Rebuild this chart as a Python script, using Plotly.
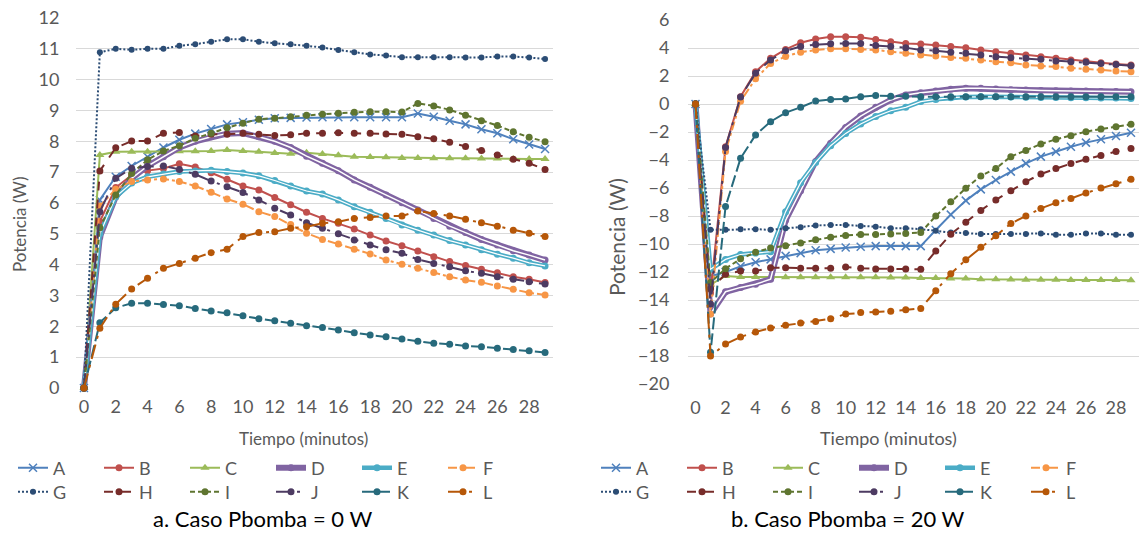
import plotly.graph_objects as go

# ---------------- data ----------------
minutes = list(range(30))
series_names = ["A", "B", "C", "D", "E", "F", "G", "H", "I", "J", "K", "L"]
x_ticks = list(range(0, 29, 2))

# Caso Pbomba = 0 W
a_left = [0, 6.1, 6.85, 7.2, 7.5, 7.8, 8.05, 8.25, 8.4, 8.55, 8.62, 8.7, 8.75, 8.76, 8.77, 8.78, 8.78, 8.78, 8.78, 8.78, 8.78, 8.9, 8.8, 8.67, 8.55, 8.39, 8.26, 8.07, 7.9, 7.75]
b_left = [0, 5.4, 6.5, 6.9, 7.05, 7.12, 7.27, 7.17, 6.98, 6.77, 6.55, 6.42, 6.18, 5.94, 5.70, 5.50, 5.34, 5.16, 4.96, 4.77, 4.61, 4.44, 4.26, 4.10, 3.97, 3.85, 3.74, 3.61, 3.53, 3.42]
c_left = [0, 7.56, 7.66, 7.66, 7.66, 7.67, 7.68, 7.68, 7.69, 7.72, 7.69, 7.66, 7.62, 7.6, 7.63, 7.59, 7.55, 7.5, 7.49, 7.48, 7.46, 7.46, 7.45, 7.45, 7.45, 7.44, 7.44, 7.43, 7.43, 7.43]
d_left = [0, 4.9, 6.2, 6.8, 7.2, 7.5, 7.8, 8.0, 8.15, 8.25, 8.27, 8.15, 8.0, 7.8, 7.52, 7.29, 7.05, 6.75, 6.51, 6.26, 6.01, 5.77, 5.50, 5.25, 5.04, 4.82, 4.64, 4.45, 4.31, 4.15]
e_left = [0, 5.0, 6.2, 6.65, 6.85, 6.94, 7.02, 7.04, 7.06, 7.02, 6.97, 6.88, 6.73, 6.55, 6.39, 6.29, 6.10, 5.88, 5.70, 5.50, 5.29, 5.12, 4.96, 4.78, 4.64, 4.48, 4.34, 4.21, 4.06, 3.96]
f_left = [0, 5.9, 6.45, 6.7, 6.75, 6.78, 6.7, 6.55, 6.35, 6.13, 5.96, 5.72, 5.56, 5.3, 5.02, 4.82, 4.67, 4.50, 4.35, 4.15, 4.01, 3.88, 3.75, 3.61, 3.50, 3.43, 3.31, 3.20, 3.09, 3.02]
g_left = [0, 10.89, 11.0, 10.97, 11.0, 11.0, 11.1, 11.15, 11.23, 11.31, 11.31, 11.23, 11.18, 11.15, 11.1, 11.04, 10.96, 10.89, 10.82, 10.78, 10.73, 10.73, 10.73, 10.73, 10.72, 10.72, 10.75, 10.75, 10.72, 10.67]
h_left = [0, 7.04, 7.79, 8.01, 8.01, 8.26, 8.29, 8.17, 8.23, 8.23, 8.26, 8.23, 8.19, 8.21, 8.26, 8.26, 8.28, 8.26, 8.26, 8.24, 8.23, 8.15, 8.08, 7.97, 7.83, 7.70, 7.56, 7.42, 7.29, 7.09]
i_left = [0, 5.2, 6.26, 6.96, 7.40, 7.69, 7.86, 8.10, 8.26, 8.44, 8.59, 8.72, 8.75, 8.80, 8.85, 8.88, 8.91, 8.94, 8.96, 8.96, 8.95, 9.23, 9.15, 9.02, 8.85, 8.67, 8.51, 8.31, 8.13, 7.99]
j_left = [0, 5.72, 6.8, 7.13, 7.18, 7.2, 7.09, 6.93, 6.71, 6.53, 6.34, 6.1, 5.83, 5.61, 5.36, 5.18, 5.00, 4.80, 4.64, 4.48, 4.37, 4.17, 4.04, 3.93, 3.80, 3.72, 3.61, 3.53, 3.45, 3.37]
k_left = [0, 2.12, 2.6, 2.75, 2.75, 2.71, 2.67, 2.58, 2.50, 2.44, 2.34, 2.25, 2.18, 2.1, 2.02, 1.96, 1.88, 1.79, 1.72, 1.66, 1.59, 1.52, 1.45, 1.42, 1.36, 1.34, 1.29, 1.25, 1.21, 1.15]
l_left = [0, 1.94, 2.72, 3.21, 3.56, 3.88, 4.04, 4.21, 4.39, 4.50, 4.91, 5.04, 5.07, 5.18, 5.23, 5.34, 5.39, 5.50, 5.53, 5.58, 5.58, 5.74, 5.66, 5.58, 5.47, 5.36, 5.25, 5.12, 5.02, 4.91]

# Caso Pbomba = 20 W
a_right = [0, -12.3, -12.0, -11.6, -11.3, -11.1, -10.85, -10.65, -10.45, -10.35, -10.25, -10.2, -10.15, -10.15, -10.15, -10.15, -9.0, -7.9, -6.9, -6.1, -5.43, -4.83, -4.24, -3.76, -3.4, -3.05, -2.76, -2.52, -2.29, -2.05]
b_right = [0, -13.5, -3.05, 0.52, 2.31, 3.26, 3.9, 4.38, 4.64, 4.81, 4.81, 4.76, 4.6, 4.45, 4.33, 4.29, 4.21, 4.1, 4.02, 3.86, 3.74, 3.62, 3.5, 3.38, 3.26, 3.14, 3.07, 2.95, 2.86, 2.79]
c_right = [0, -12.9, -12.28, -12.35, -12.35, -12.35, -12.38, -12.38, -12.38, -12.38, -12.38, -12.38, -12.38, -12.4, -12.4, -12.42, -12.42, -12.47, -12.47, -12.52, -12.52, -12.54, -12.55, -12.55, -12.56, -12.57, -12.57, -12.58, -12.58, -12.59]
d_right = [0, -15.0, -13.41, -13.1, -12.87, -12.52, -8.3, -6.2, -4.1, -2.81, -1.67, -0.86, -0.24, 0.29, 0.64, 0.81, 0.93, 1.05, 1.12, 1.12, 1.07, 1.02, 1.0, 0.97, 0.95, 0.93, 0.92, 0.9, 0.89, 0.88]
e_right = [0, -11.8, -11.1, -10.75, -10.65, -10.55, -7.69, -5.62, -4.17, -2.98, -2.1, -1.43, -0.9, -0.48, -0.24, 0.17, 0.33, 0.45, 0.5, 0.52, 0.52, 0.5, 0.48, 0.47, 0.46, 0.45, 0.44, 0.43, 0.42, 0.4]
f_right = [0, -15.0, -3.4, 0.2, 1.8, 2.9, 3.4, 3.7, 3.85, 3.95, 3.95, 3.9, 3.86, 3.74, 3.62, 3.5, 3.43, 3.33, 3.26, 3.14, 3.02, 2.95, 2.79, 2.71, 2.67, 2.55, 2.48, 2.43, 2.36, 2.31]
g_right = [0, -8.99, -8.99, -8.94, -8.94, -8.99, -8.87, -8.8, -8.68, -8.64, -8.64, -8.71, -8.76, -8.87, -8.87, -8.94, -9.06, -9.18, -9.22, -9.29, -9.29, -9.29, -9.29, -9.25, -9.34, -9.34, -9.25, -9.25, -9.34, -9.34]
h_right = [0, -13.2, -12.16, -11.93, -11.93, -11.7, -11.7, -11.74, -11.74, -11.74, -11.65, -11.74, -11.78, -11.78, -11.78, -11.81, -10.5, -9.3, -8.45, -7.6, -6.85, -6.2, -5.55, -5.0, -4.6, -4.25, -3.95, -3.67, -3.4, -3.17]
i_right = [0, -12.75, -11.76, -11.06, -10.59, -10.28, -10.12, -9.93, -9.69, -9.51, -9.39, -9.32, -9.32, -9.29, -9.25, -9.18, -8.0, -6.98, -6.02, -5.14, -4.6, -3.76, -3.33, -2.86, -2.52, -2.26, -1.98, -1.79, -1.62, -1.45]
j_right = [0, -14.28, -3.1, 0.5, 2.2, 3.15, 3.8, 4.1, 4.25, 4.3, 4.33, 4.33, 4.17, 4.1, 4.02, 3.86, 3.81, 3.69, 3.62, 3.5, 3.38, 3.31, 3.26, 3.19, 3.07, 3.02, 2.98, 2.9, 2.83, 2.74]
k_right = [0, -17.74, -7.33, -3.88, -2.21, -1.26, -0.62, -0.24, 0.21, 0.33, 0.36, 0.52, 0.6, 0.55, 0.55, 0.52, 0.52, 0.52, 0.52, 0.52, 0.52, 0.52, 0.52, 0.52, 0.52, 0.52, 0.52, 0.52, 0.52, 0.52]
l_right = [0, -18.0, -17.15, -16.64, -16.28, -16.0, -15.81, -15.65, -15.53, -15.34, -15.0, -14.9, -14.85, -14.8, -14.7, -14.6, -13.34, -12.12, -11.13, -10.24, -9.41, -8.54, -8.0, -7.46, -7.06, -6.75, -6.35, -6.0, -5.7, -5.38]

left_values = [a_left, b_left, c_left, d_left, e_left, f_left, g_left, h_left, i_left, j_left, k_left, l_left]
right_values = [a_right, b_right, c_right, d_right, e_right, f_right, g_right, h_right, i_right, j_right, k_right, l_right]

captions = ["a. Caso Pbomba = 0 W", "b. Caso Pbomba = 20 W"]

# ---------------- styles ----------------
colors = ["#4F81BD", "#C0504D", "#9BBB59", "#8064A2", "#4BACC6", "#F79646",
          "#2C4D75", "#772C2A", "#5F7530", "#4D3B62", "#276A7C", "#B65708"]
dashes = ["solid", "solid", "solid", "solid", "solid", "dashdot",
          "2px,2px", "dash", "5px,3px", "longdashdot", "12px,4px", "longdashdot"]
symbols = ["x-thin", "circle", "triangle-up", "circle", "circle", "circle",
           "circle", "circle", "circle", "circle", "circle", "circle"]
widths = [2, 2, 2, 6, 4.5, 2, 2, 2, 2, 2, 2, 2]
inner = {3: 1.5, 4: 1.2}   # double (compound) lines: white core
FONT = "Lato, 'Open Sans', sans-serif"
GREY = "#595959"

W, H = 1139, 538
def px_x(p): return p / W
def px_y(p): return 1 - p / H

fig = go.Figure()

for side, values in enumerate([left_values, right_values]):
    xa = "x" if side == 0 else "x2"
    ya = "y" if side == 0 else "y2"
    for k, name in enumerate(series_names):
        leg_idx = side * 2 + (0 if k < 6 else 1)
        legname = "legend" if leg_idx == 0 else "legend%d" % (leg_idx + 1)
        sym = symbols[k]
        if sym == "x-thin":
            marker = dict(symbol=sym, size=8, line=dict(color=colors[k], width=1.5), color=colors[k])
        elif sym == "triangle-up":
            marker = dict(symbol=sym, size=8, color=colors[k])
        else:
            marker = dict(symbol=sym, size=6 if k == 6 else 7, color=colors[k])
        fig.add_trace(go.Scatter(
            x=minutes, y=values[k], name=name, mode="lines+markers",
            xaxis=xa, yaxis=ya, legend=legname, cliponaxis=False,
            line=dict(color=colors[k], width=widths[k], dash=dashes[k]),
            marker=marker))
        if k in inner:
            fig.add_trace(go.Scatter(
                x=minutes, y=values[k], mode="lines", showlegend=False,
                xaxis=xa, yaxis=ya, hoverinfo="skip", cliponaxis=False,
                line=dict(color="white", width=inner[k])))

axis_common = dict(showline=False, zeroline=False, automargin=False,
                   gridcolor="#D9D9D9", gridwidth=1,
                   ticks="outside", tickcolor="rgba(0,0,0,0)",
                   tickfont=dict(family=FONT, size=18, color=GREY))

fig.update_layout(
    width=W, height=H, margin=dict(l=0, r=0, t=0, b=0, autoexpand=False),
    paper_bgcolor="white", plot_bgcolor="white", showlegend=True,
    xaxis=dict(domain=[px_x(76), px_x(553)], range=[-0.5, 29.5], tickvals=x_ticks,
               anchor="y", showgrid=False, ticklen=2, **axis_common),
    yaxis=dict(domain=[px_y(388), px_y(18)], range=[0, 12], dtick=1, showgrid=True,
               anchor="x", ticklen=12, **axis_common),
    xaxis2=dict(domain=[px_x(688), px_x(1138.5)], range=[-0.5, 29.5], tickvals=x_ticks,
                anchor="y2", showgrid=False, ticklen=7, **axis_common),
    yaxis2=dict(domain=[px_y(384), px_y(20)], range=[-20, 6], dtick=2, showgrid=True,
                anchor="x2", ticklen=14, **axis_common),
)

leg_common = dict(orientation="h", xanchor="left", yanchor="middle",
                  entrywidth=41, entrywidthmode="pixels", itemwidth=30,
                  bgcolor="rgba(0,0,0,0)", borderwidth=0,
                  font=dict(family=FONT, size=18, color=GREY))
fig.update_layout(
    legend=dict(x=px_x(13), y=px_y(468), **leg_common),
    legend2=dict(x=px_x(13), y=px_y(492), **leg_common),
    legend3=dict(x=px_x(596), y=px_y(468), **leg_common),
    legend4=dict(x=px_x(596), y=px_y(492), **leg_common),
)

annotations = [
    dict(text="Tiempo (minutos)", x=px_x(303), y=px_y(438), font=dict(size=17)),
    dict(text="Tiempo (minutos)", x=px_x(888), y=px_y(438), font=dict(size=18)),
    dict(text="Potencia (W)", x=px_x(20), y=px_y(225), textangle=-90, font=dict(size=17)),
    dict(text="Potencia (W)", x=px_x(616), y=px_y(237), textangle=-90, font=dict(size=21)),
    dict(text=captions[0], x=px_x(262), y=px_y(518), font=dict(size=22, color="black")),
    dict(text=captions[1], x=px_x(848), y=px_y(518), font=dict(size=22, color="black")),
]
for a in annotations:
    f = dict(family=FONT, color=GREY)
    f.update(a.pop("font"))
    fig.add_annotation(xref="paper", yref="paper", showarrow=False,
                       xanchor="center", yanchor="middle", font=f, **a)

fig.write_html("out.html", config={"displayModeBar": False},
               post_script="document.body.style.margin='0';document.body.style.overflow='hidden';")
